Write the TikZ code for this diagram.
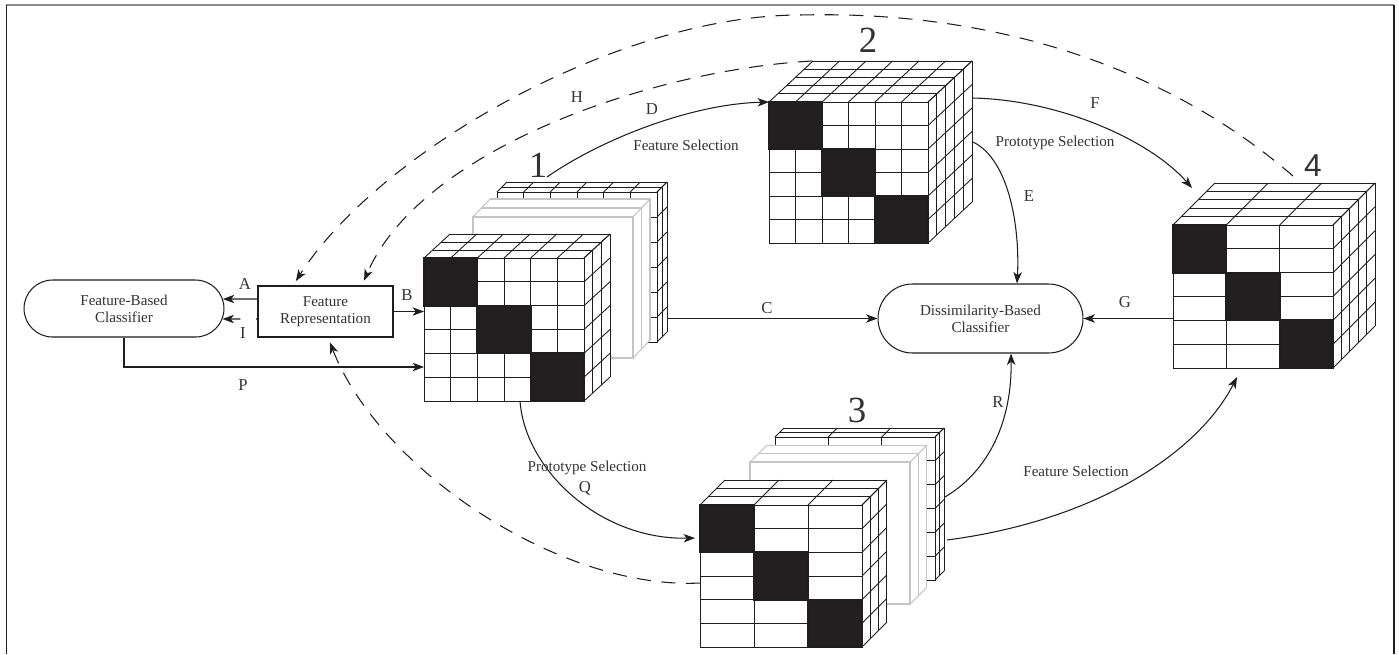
\documentclass[tikz,border=0pt]{standalone}
\usepackage{fontspec}
\setmainfont{Liberation Serif}
\newfontfamily\sansdigit{Liberation Sans}
\usetikzlibrary{arrows.meta,shapes.misc}
\definecolor{ink}{HTML}{1E1E1E}
\definecolor{blk}{HTML}{231F20}
\definecolor{txt}{HTML}{333333}
\definecolor{slabline}{HTML}{C4C4C4}
\definecolor{framegray}{HTML}{8A8A8A}

% #1 x, #2 y (front top-left), #3 w, #4 h, #5 columns, #6 depth layers, #7 dx, #8 dy, #9 black blocks (1/0)
\newcommand{\mcube}[9]{%
 \begin{scope}[shift={(#1,#2)}]
  \pgfmathsetmacro{\Lx}{#6*(#7)}%
  \pgfmathsetmacro{\Ly}{#6*(#8)}%
  \fill[white] (0,0) -- (#3,0) -- ({#3+\Lx},{\Ly}) -- ({\Lx},{\Ly}) -- cycle;
  \fill[white] (#3,0) -- ({#3+\Lx},{\Ly}) -- ({#3+\Lx},{#4+\Ly}) -- (#3,#4) -- cycle;
  \foreach \k in {0,...,#6}{
    \draw[cl] ({\k*(#7)},{\k*(#8)}) -- ({#3+\k*(#7)},{\k*(#8)});
    \draw[cl] ({#3+\k*(#7)},{\k*(#8)}) -- ({#3+\k*(#7)},{#4+\k*(#8)});
  }
  \foreach \j in {0,...,#5}{
    \draw[cl] ({\j*#3/#5},0) -- ({\j*#3/#5+\Lx},{\Ly});
  }
  \foreach \i in {0,...,6}{
    \draw[cl] (#3,{\i*#4/6}) -- ({#3+\Lx},{\i*#4/6+\Ly});
  }
  \filldraw[cl,fill=white] (0,0) rectangle (#3,#4);
  \foreach \i in {1,...,5}{\draw[cl] (0,{\i*#4/6}) -- (#3,{\i*#4/6});}
  \pgfmathtruncatemacro{\nc}{#5-1}%
  \foreach \j in {1,...,\nc}{\draw[cl] ({\j*#3/#5},0) -- ({\j*#3/#5},#4);}
  \ifnum#9=1
  \foreach \b in {0,1,2}{
    \filldraw[blkbox] ({\b*#3/3},{\b*#4/3}) rectangle ({(\b+1)*#3/3},{(\b+1)*#4/3});
  }
  \fi
 \end{scope}}

% #1 x, #2 y, #3 w, #4 h, #5 layers, #6 dx, #7 dy
\newcommand{\mslab}[7]{%
 \begin{scope}[shift={(#1,#2)}]
  \pgfmathsetmacro{\Lx}{#5*(#6)}%
  \pgfmathsetmacro{\Ly}{#5*(#7)}%
  \fill[white] (0,0) -- ({\Lx},{\Ly}) -- ({#3+\Lx},{\Ly}) -- ({#3+\Lx},{#4+\Ly}) -- (#3,#4) -- (0,#4) -- cycle;
  \foreach \k in {0,...,#5}{
    \draw[sl] ({\k*(#6)},{\k*(#7)}) -- ({#3+\k*(#6)},{\k*(#7)}) -- ({#3+\k*(#6)},{#4+\k*(#7)});
  }
  \draw[sl] (0,0) -- ({\Lx},{\Ly});
  \draw[sl] (#3,0) -- ({#3+\Lx},{\Ly});
  \draw[sl] (#3,#4) -- ({#3+\Lx},{#4+\Ly});
  \draw[sl] (0,0) rectangle (#3,#4);
 \end{scope}}

\begin{document}
\begin{tikzpicture}[x=0.02cm,y=-0.02cm,
  cl/.style={draw=ink,line width=0.5pt},
  blkbox/.style={fill=blk,draw=ink,line width=1pt},
  sl/.style={draw=slabline,line width=0.6pt},
  face/.style={draw=none,inner sep=0pt,outer sep=0pt,rectangle},
  arr/.style={draw=ink,line width=0.6pt,-{Stealth[length=6.5pt,width=4.8pt,inset=1.8pt]}},
  darr/.style={arr,dash pattern=on 8pt off 6pt,shorten >=3pt},
  lbl/.style={text=txt,font=\fontsize{9.5}{11}\selectfont,inner sep=0pt},
  smalltxt/.style={text=txt,font=\fontsize{8.6}{9.6}\selectfont,align=center,inner sep=0pt},
  bignum/.style={text=txt,font=\fontsize{21}{24}\selectfont,inner sep=0pt},
  clf/.style={rounded rectangle,draw=ink,line width=0.6pt,text=txt,font=\fontsize{8.6}{9.6}\selectfont,align=center,inner sep=0pt},
  frbox/.style={rectangle,draw=ink,line width=0.6pt,text=txt,font=\fontsize{8.6}{9.6}\selectfont,align=center,inner sep=0pt}
]
\useasboundingbox (0,0) rectangle (1399,654);
\fill[white] (0,0) rectangle (1399,654);

% frame
\draw[framegray,line width=1.2pt] (6,5) -- (1394,5);
\draw[ink,line width=1pt] (6.5,5) -- (6.5,654);
\draw[ink,line width=1pt] (1394,5) -- (1394,654);

% stack 1
\mcube{497}{192}{160}{150}{6}{2}{5}{-5}{0}
\mslab{473}{217}{160}{141}{2}{8.5}{-9}
\mcube{424}{258}{160}{143}{6}{3}{8.7}{-8}{1}
% cube 2
\mcube{769}{102}{159}{141}{6}{5}{8.8}{-8.2}{1}
% stack 3
\mcube{775}{437}{160}{143}{3}{2}{4.5}{-4.5}{0}
\mslab{750}{462}{160}{142}{2}{8.3}{-8.3}
\mcube{700}{505}{162}{142}{3}{3}{8.3}{-8.3}{1}
% cube 4
\mcube{1173}{225}{160}{143}{3}{5}{8.4}{-8.4}{1}

% invisible front faces
\node[face,minimum width=3.2cm,minimum height=2.86cm] (c1) at (504,329.5) {};
\node[face,minimum width=3.18cm,minimum height=2.82cm] (c2) at (848.5,172.5) {};
\node[face,minimum width=3.24cm,minimum height=2.84cm] (c3) at (781,576) {};
\node[face,minimum width=3.2cm,minimum height=2.86cm] (c4) at (1253,296.5) {};

% attachment points
\coordinate (s1r) at (668,318.5);
\coordinate (c1t) at (547,177);
\coordinate (c1b) at (520,401);
\coordinate (c2r1) at (973,98);
\coordinate (c2r2) at (973,142);
\coordinate (c2back) at (812,61);
\coordinate (c4top) at (1293,176);
\coordinate (c4in) at (1192,188);
\coordinate (c4bot) at (1237,377);
\coordinate (s3r1) at (945,497);
\coordinate (s3r2) at (947,540);
\coordinate (c3d) at (700,583);

% main nodes
\node[clf,minimum width=4cm,minimum height=1.14cm] (fbc) at (124,308.5) {Feature-Based\\Classifier};
\node[frbox,minimum width=2.7cm,minimum height=1.02cm] (fr) at (325.5,311.5) {Feature\\Representation};
\node[clf,minimum width=4.1cm,minimum height=1.38cm] (dbc) at (980.5,318.5) {Dissimilarity-Based\\Classifier};

% connectors
\draw[arr] ([yshift=0.25cm]fr.west) -- ([xshift=-0.032cm,yshift=0.19cm]fbc.east);
\draw[arr,dash pattern=on 0.8pt off 9pt on 20pt] ([yshift=-0.15cm]fr.west) -- ([xshift=-0.04cm,yshift=-0.21cm]fbc.east);
\draw[arr] (fr.east) -- (fr.east -| c1.west);
\draw[arr] (fbc.south) |- ([yshift=-0.75cm]c1.west);
\draw[arr] (s1r) -- (dbc.west);
\draw[arr] (dbc.east -| c4.west) -- (dbc.east);
\draw[arr] (c1t) .. controls (600,140) and (690,104) .. (c2.north west);
\draw[arr] (c2r1) .. controls (1060,100) and (1150,140) .. (c4in);
\draw[arr] (c2r2) .. controls (1010,160) and (1020,230) .. ([xshift=0.73cm]dbc.north);
\draw[arr] (c1b) .. controls (525,470) and (600,540) .. ([xshift=-0.1cm,yshift=0.76cm]c3.west);
\draw[arr] (s3r1) .. controls (990,470) and (1012,420) .. ([xshift=0.61cm]dbc.south);
\draw[arr] (s3r2) .. controls (1100,520) and (1200,450) .. (c4bot);
\draw[darr] (c4top) .. controls (1170,70) and (1000,10) .. (800,15) .. controls (620,15) and (380,150) .. ([xshift=-0.65cm]fr.north);
\draw[darr] (c2back) .. controls (650,70) and (420,150) .. ([xshift=0.73cm]fr.north);
\draw[darr] (c3d) .. controls (560,590) and (380,470) .. ([xshift=0.05cm]fr.south);

% labels
\node[bignum] at (538,165) {1};
\node[bignum] at (868,40) {2};
\node[bignum] at (857,410) {3};
\node[text=txt,font=\sansdigit\fontsize{18}{20}\selectfont,inner sep=0pt] at (1313,166) {4};
\node[lbl] at (245,284) {A};
\node[lbl] at (243,333) {I};
\node[lbl] at (407,295) {B};
\node[lbl] at (243,385) {P};
\node[lbl] at (767,308) {C};
\node[lbl] at (1125,302) {G};
\node[lbl] at (652,109) {D};
\node[lbl] at (577,97) {H};
\node[lbl] at (1095,103) {F};
\node[lbl] at (1029,196) {E};
\node[lbl] at (998,402) {R};
\node[lbl] at (585,488) {Q};
\node[smalltxt] at (686,145) {Feature Selection};
\node[smalltxt] at (1055,143) {Prototype Selection};
\node[smalltxt] at (587,468) {Prototype Selection};
\node[smalltxt] at (1076,471) {Feature Selection};
\end{tikzpicture}
\end{document}
